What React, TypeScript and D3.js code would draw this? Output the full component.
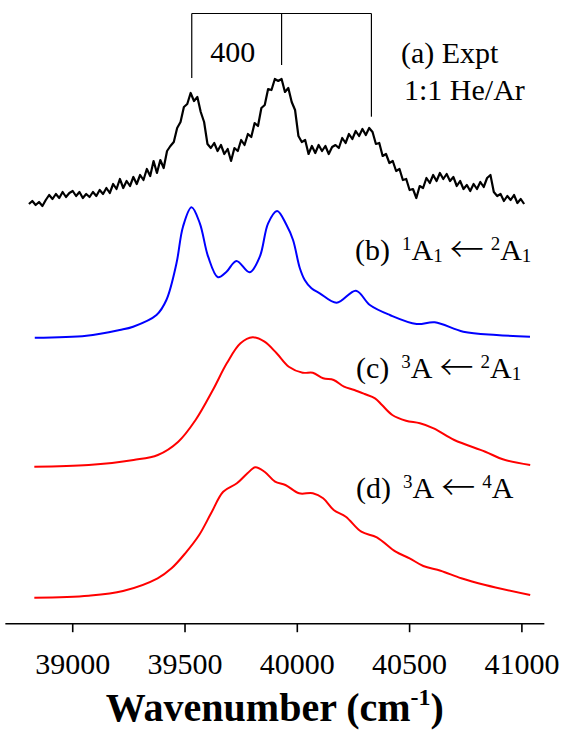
import React from 'react';
import * as d3 from 'd3';

const WIDTH = 564;
const HEIGHT = 731;
const FONT = "'Liberation Serif', 'Times New Roman', Times, serif";
const ARROW_FONT = "'Noto Sans CJK JP', 'DejaVu Sans', sans-serif";

const tickValues = [39000, 39500, 40000, 40500, 41000];
const progressionPositions = [39530, 39930, 40330];
const progressionLabel = '400';

// (a) experiment
const exptWavenumber = [
  38805, 38820, 38835, 38850, 38865, 38880, 38895, 38910, 38925, 38940,
  38955, 38970, 38985, 39000, 39015, 39030, 39045, 39060, 39075, 39090,
  39105, 39120, 39135, 39150, 39165, 39180, 39195, 39210, 39225, 39240,
  39255, 39270, 39285, 39300, 39315, 39330, 39345, 39360, 39375, 39390,
  39405, 39420, 39435, 39450, 39465, 39480, 39495, 39510, 39525, 39540,
  39555, 39570, 39585, 39600, 39615, 39630, 39645, 39660, 39675, 39690,
  39705, 39720, 39735, 39750, 39765, 39780, 39795, 39810, 39825, 39840,
  39855, 39870, 39885, 39900, 39915, 39930, 39945, 39960, 39975, 39990,
  40005, 40020, 40035, 40050, 40065, 40080, 40095, 40110, 40125, 40140,
  40155, 40170, 40185, 40200, 40215, 40230, 40245, 40260, 40275, 40290,
  40305, 40320, 40335, 40350, 40365, 40380, 40395, 40410, 40425, 40440,
  40455, 40470, 40485, 40500, 40515, 40530, 40545, 40560, 40575, 40590,
  40605, 40620, 40635, 40650, 40665, 40680, 40695, 40710, 40725, 40740,
  40755, 40770, 40785, 40800, 40815, 40830, 40845, 40860, 40875, 40890,
  40905, 40920, 40935, 40950, 40965, 40980, 40995, 41010,
];
const exptIntensity = [
  2, 5, 1, 4, 0, 6, 11, 7, 12, 8,
  14, 9, 13, 15, 10, 14, 8, 12, 9, 14,
  10, 16, 12, 18, 13, 22, 17, 27, 18, 25,
  20, 29, 22, 31, 26, 37, 30, 45, 33, 46,
  38, 55, 60, 64, 78, 84, 99, 102, 113, 105,
  109, 94, 84, 62, 58, 63, 55, 61, 52, 57,
  45, 58, 55, 66, 61, 72, 69, 83, 80, 98,
  101, 117, 116, 127, 125, 127, 114, 118, 104, 96,
  70, 64, 66, 52, 60, 53, 61, 55, 60, 52,
  59, 61, 58, 68, 63, 72, 67, 75, 70, 77,
  71, 78, 74, 62, 63, 50, 52, 43, 45, 35,
  37, 26, 27, 16, 17, 8, 20, 18, 28, 23,
  31, 25, 33, 27, 32, 25, 29, 20, 25, 17,
  21, 15, 22, 17, 24, 19, 28, 31, 14, 10,
  12, 5, 10, 6, 11, 3, 7, 2,
];

// (b) 1A1 <- 2A1
const calcBWavenumber = [
  38831, 39061, 39209, 39269, 39373, 39417, 39462, 39491, 39529, 39566,
  39603, 39647, 39685, 39729, 39788, 39833, 39870, 39910, 39952,
  39981, 40011, 40033, 40063, 40100, 40175, 40261, 40323, 40412, 40531,
  40612, 40739, 40887, 41036,
];
const calcBIntensity = [
  0.3, 2.3, 8, 11.3, 23, 38, 74.7, 111.3, 130.7, 114.7,
  81.3, 60.7, 66.3, 77, 65.7, 81.3, 114.7, 127, 113,
  98, 70, 58, 49.7, 44.7, 35.3, 47.3, 33, 23, 14,
  15.7, 6.3, 3, 1.3,
];

// (c) 3A <- 2A1
const calcCWavenumber = [
  38829, 39071, 39271, 39379, 39470, 39547, 39624, 39686, 39747, 39801,
  39854, 39908, 39962, 40024, 40069, 40115, 40162, 40208, 40254, 40300,
  40346, 40377, 40423, 40484, 40546, 40607, 40699, 40837, 40915, 41037,
];
const calcCIntensity = [
  0.3, 2, 7, 12, 25.3, 47, 77, 103.7, 123.7, 129.7,
  125.3, 113.7, 100.3, 94.3, 94.3, 88.7, 87, 80.3, 77, 73,
  68.7, 62, 52, 46.3, 43.7, 38.7, 27, 15.3, 7.7, 2,
];

// (d) 3A <- 4A
const calcDWavenumber = [
  38829, 39071, 39224, 39378, 39440, 39501, 39563, 39616, 39670, 39731,
  39778, 39813, 39854, 39901, 39947, 40008, 40069, 40115, 40162, 40216,
  40285, 40354, 40438, 40500, 40561, 40638, 40730, 40837, 41037,
];
const calcDIntensity = [
  0.3, 2.3, 7, 19.7, 29.7, 44.7, 63, 84.7, 106.3, 114.7,
  124.7, 130.7, 126.3, 116.3, 113, 104.7, 104.7, 99.7, 88, 81.3,
  66.3, 60.7, 46.3, 39.7, 32, 27.3, 19.7, 13, 3,
];

const traceOffsets = { a: 417, b: 285, c: 156, d: 25 };

export default function App() {
  const x = d3.scaleLinear().domain([38700, 41100]).range([5.35, 544.35]);
  const y = d3.scaleLinear().domain([0, 620]).range([623, 3]);

  const makePath = (ws: number[], vs: number[], off: number, curve: any) =>
    d3
      .line<number>()
      .x((_, i) => x(ws[i]))
      .y((d) => y(d + off))
      .curve(curve)(vs) || '';

  const smooth = d3.curveCatmullRom.alpha(0.5);
  const pathA = makePath(exptWavenumber, exptIntensity, traceOffsets.a, d3.curveLinear);
  const pathB = makePath(calcBWavenumber, calcBIntensity, traceOffsets.b, smooth);
  const pathC = makePath(calcCWavenumber, calcCIntensity, traceOffsets.c, smooth);
  const pathD = makePath(calcDWavenumber, calcDIntensity, traceOffsets.d, smooth);

  const axisY = 623.7;
  const [d0, d1] = x.domain();
  const bracketTop = 13.5;
  const bracketBottoms = [78, 65, 116.7];

  const sub = 19;
  const arrow = (dy: number) => (
    <tspan dx={7} dy={dy} fontFamily={ARROW_FONT} fontSize={34} fontWeight={300}>←</tspan>
  );
  return (
    <div style={{ position: 'absolute', left: 0, top: 0 }}>
      <svg width={WIDTH} height={HEIGHT} style={{ display: 'block', background: '#fff' }} fontFamily={FONT}>
        {/* progression bracket */}
        <g stroke="#000" strokeWidth={1.2} fill="none">
          <line x1={x(progressionPositions[0])} x2={x(progressionPositions[progressionPositions.length - 1])} y1={bracketTop} y2={bracketTop} />
          {progressionPositions.map((p, i) => (
            <line key={p} x1={x(p)} x2={x(p)} y1={bracketTop} y2={bracketBottoms[i]} />
          ))}
        </g>
        <text x={(x(progressionPositions[0]) + x(progressionPositions[1])) / 2 - 4} y={61.5} fontSize={30} textAnchor="middle">
          {progressionLabel}
        </text>

        {/* traces */}
        <path d={pathA} fill="none" stroke="#000" strokeWidth={2.2} strokeLinejoin="round" />
        <path d={pathB} fill="none" stroke="#0000ff" strokeWidth={2} />
        <path d={pathC} fill="none" stroke="#ff0000" strokeWidth={2} />
        <path d={pathD} fill="none" stroke="#ff0000" strokeWidth={2} />

        {/* labels */}
        <text x={401} y={63} fontSize={30}>(a) Expt</text>
        <text x={404} y={100} fontSize={30}>1:1 He/Ar</text>

        <text x={355} y={260} fontSize={30}>
          (b)<tspan dx={12} dy={-10} fontSize={sub}>1</tspan>
          <tspan dy={10}>A</tspan>
          <tspan dy={2} fontSize={sub}>1</tspan>
          {arrow(0)}
          <tspan dx={7} dy={-12} fontSize={sub}>2</tspan>
          <tspan dy={10}>A</tspan>
          <tspan dy={2} fontSize={sub}>1</tspan>
        </text>

        <text x={356} y={378} fontSize={30}>
          (c)<tspan dx={12} dy={-10} fontSize={sub}>3</tspan>
          <tspan dy={10}>A</tspan>
          {arrow(2)}
          <tspan dx={7} dy={-12} fontSize={sub}>2</tspan>
          <tspan dy={10}>A</tspan>
          <tspan dy={2} fontSize={sub}>1</tspan>
        </text>

        <text x={356} y={498} fontSize={30}>
          (d)<tspan dx={12} dy={-10} fontSize={sub}>3</tspan>
          <tspan dy={10}>A</tspan>
          {arrow(2)}
          <tspan dx={7} dy={-12} fontSize={sub}>4</tspan>
          <tspan dy={10}>A</tspan>
        </text>

        {/* x axis */}
        <g stroke="#000" strokeWidth={1.6}>
          <line x1={x(d0)} x2={x(d1)} y1={axisY} y2={axisY} />
          {tickValues.map((t) => (
            <line key={t} x1={x(t)} x2={x(t)} y1={axisY} y2={axisY + 8.5} />
          ))}
        </g>
        {tickValues.map((t) => (
          <text key={t} x={x(t)} y={673.7} fontSize={30} textAnchor="middle">
            {t}
          </text>
        ))}
        <text x={(x(d0) + x(d1)) / 2} y={721} fontSize={40} fontWeight="bold" textAnchor="middle">
          Wavenumber (cm<tspan dy={-16} fontSize={24}>-1</tspan>
          <tspan dy={16}>)</tspan>
        </text>
      </svg>
    </div>
  );
}
